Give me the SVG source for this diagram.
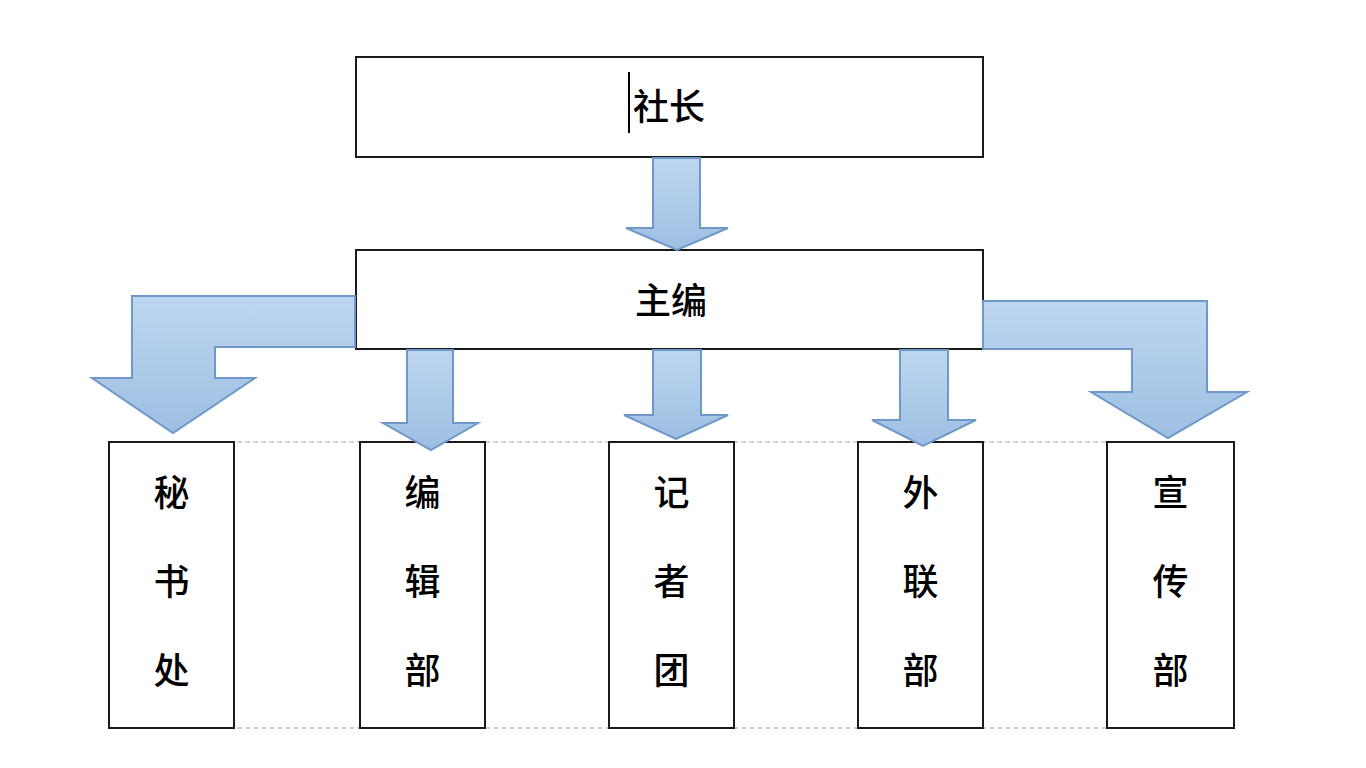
<svg xmlns="http://www.w3.org/2000/svg" width="1366" height="768" viewBox="0 0 1366 768">
<defs>
<linearGradient id="g" x1="0" y1="0" x2="0" y2="1">
<stop offset="0" stop-color="#bed7f0"/>
<stop offset="1" stop-color="#9dbfe3"/>
</linearGradient>
</defs>
<style>
.box{fill:#fff;stroke:#1a1a1a;stroke-width:2}
.arr{fill:url(#g);stroke:#6f97c8;stroke-width:2;stroke-linejoin:miter}
.dash{stroke:#c4c4c4;stroke-width:1.5;stroke-dasharray:5 3;fill:none}
.t{font-family:"Noto Sans CJK SC","Noto Sans CJK JP",sans-serif;font-size:36px;fill:#000;text-anchor:middle;dominant-baseline:central;font-weight:500}
</style>
<rect width="1366" height="768" fill="#fff"/>
<g id="guides">
<line class="dash" x1="109" y1="442" x2="1234" y2="442"/>
<line class="dash" x1="109" y1="728" x2="1234" y2="728"/>
</g>
<g id="n-shezhang">
<rect class="box" x="356" y="57" width="627" height="100"/>
<text class="t" x="669" y="104">社长</text>
<line x1="629" y1="72" x2="629" y2="133" stroke="#000" stroke-width="2"/>
</g>
<g id="n-zhubian">
<rect class="box" x="356" y="250" width="627" height="99"/>
<text class="t" x="671" y="298">主编</text>
</g>
<g id="n-mishuchu">
<rect class="box" x="109" y="442" width="125" height="286"/>
<text class="t" x="171.5" y="490">秘</text>
<text class="t" x="171.5" y="579">书</text>
<text class="t" x="171.5" y="668">处</text>
</g>
<g id="n-bianjibu">
<rect class="box" x="360" y="442" width="125" height="286"/>
<text class="t" x="422.5" y="490">编</text>
<text class="t" x="422.5" y="579">辑</text>
<text class="t" x="422.5" y="668">部</text>
</g>
<g id="n-jizhetuan">
<rect class="box" x="609" y="442" width="125" height="286"/>
<text class="t" x="671.5" y="490">记</text>
<text class="t" x="671.5" y="579">者</text>
<text class="t" x="671.5" y="668">团</text>
</g>
<g id="n-wailianbu">
<rect class="box" x="858" y="442" width="125" height="286"/>
<text class="t" x="920.5" y="490">外</text>
<text class="t" x="920.5" y="579">联</text>
<text class="t" x="920.5" y="668">部</text>
</g>
<g id="n-xuanchuanbu">
<rect class="box" x="1107" y="442" width="127" height="286"/>
<text class="t" x="1170.5" y="490">宣</text>
<text class="t" x="1170.5" y="579">传</text>
<text class="t" x="1170.5" y="668">部</text>
</g>
<g id="connectors">
<polygon class="arr" points="653,158 700,158 700,228 728,228 677,250 626,228 653,228"/>
<polygon class="arr" points="355,296 355,347 215,347 215,378 255,378 173,433 92,378 132,378 132,296"/>
<polygon class="arr" points="983,301 1207,301 1207,392 1247,392 1168,438 1091,392 1132,392 1132,349 983,349"/>
<polygon class="arr" points="407,350 453,350 453,423 478,423 431,450 383,423 407,423"/>
<polygon class="arr" points="653,350 701,350 701,415 728,415 676,439 624,415 653,415"/>
<polygon class="arr" points="900,350 948,350 948,420 976,420 923,446 872,420 900,420"/>
</g>
</svg>
